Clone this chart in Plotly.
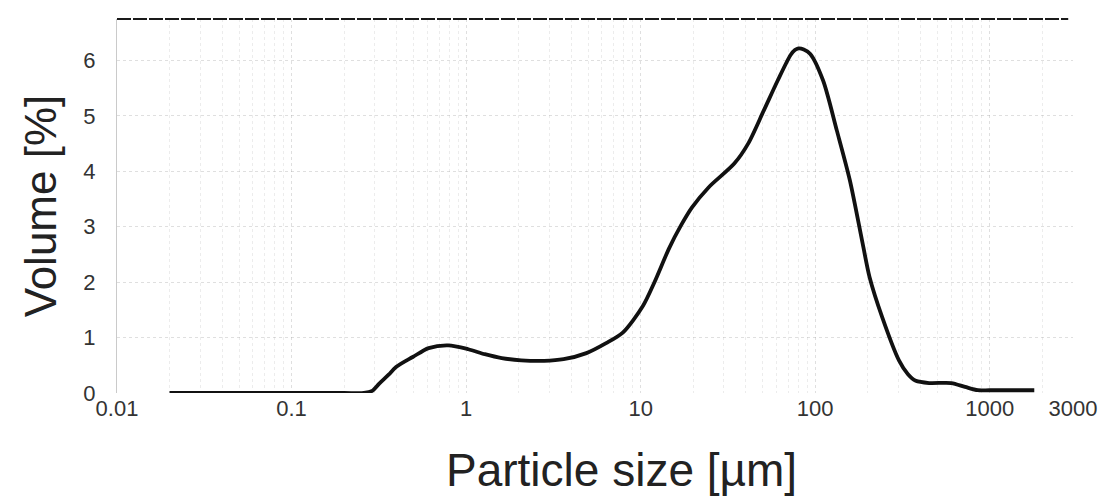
import plotly.graph_objects as go

size_um = [0.02, 0.05, 0.1, 0.2, 0.26, 0.29, 0.318, 0.36, 0.397, 0.495, 0.61, 0.79, 1.03, 1.28, 1.60,
           2.07, 2.8, 3.62, 4.89, 6.34, 7.9, 10.3, 12.0, 14.6, 17.0, 19.7, 24.5, 34.4, 41.3, 50.8,
           61.0, 72.3, 76.5, 80.2, 86.0, 93.7, 111, 133, 158, 187, 205, 242, 302, 340, 377, 450, 602, 722,
           855, 1000, 1800]
volume_pct = [0, 0, 0, 0, 0, 0.04, 0.17, 0.33, 0.47, 0.65, 0.81, 0.86, 0.79, 0.70, 0.63,
              0.59, 0.58, 0.61, 0.72, 0.90, 1.09, 1.57, 2.0, 2.62, 3.02, 3.35, 3.71, 4.14, 4.50, 5.10,
              5.64, 6.10, 6.19, 6.22, 6.2, 6.12, 5.64, 4.74, 3.84, 2.70, 2.09, 1.37, 0.59, 0.34, 0.22, 0.18, 0.18, 0.11,
              0.05, 0.05, 0.05]

x_tickvals = [0.01, 0.1, 1, 10, 100, 1000, 3000]
x_ticktext = ["0.01", "0.1", "1", "10", "100", "1000", "3000"]
y_tickvals = [0, 1, 2, 3, 4, 5, 6]

FONT = "Liberation Sans, Arial, sans-serif"

fig = go.Figure()
fig.add_trace(go.Scatter(
    x=size_um, y=volume_pct, mode="lines",
    line=dict(color="#111111", width=3.8, shape="spline", smoothing=0.8),
    showlegend=False, hoverinfo="skip",
))

fig.update_layout(
    width=1109, height=499,
    margin=dict(l=117, r=25, t=19, b=106),
    paper_bgcolor="white", plot_bgcolor="white",
    font=dict(family=FONT, color="#222222"),
    xaxis=dict(
        type="log", range=[-2, 3.4771],
        tickvals=x_tickvals, ticktext=x_ticktext,
        tickfont=dict(size=22, color="#333333"),
        showgrid=True, gridcolor="rgba(150,150,150,0.3)", griddash="dot", gridwidth=1,
        minor=dict(showgrid=True, gridcolor="rgba(150,150,150,0.18)", griddash="dot", gridwidth=1,
                   tickvals=[m * 10 ** e for e in range(-2, 4) for m in range(2, 10) if m * 10 ** e <= 3000]),
        zeroline=False, showline=False, ticks="",
    ),
    yaxis=dict(
        range=[0, 6.75],
        tickvals=y_tickvals,
        tickfont=dict(size=22, color="#333333"),
        showgrid=True, gridcolor="rgba(150,150,150,0.3)", griddash="dot", gridwidth=1,
        zeroline=False, showline=True, linecolor="rgba(150,150,150,0.5)", linewidth=1,
        ticks="", ticklabelstandoff=16,
        title=dict(text="Volume [%]", font=dict(size=44, color="#222222"), standoff=12),
    ),
)

fig.add_annotation(text="Particle size [µm]", xref="paper", yref="paper",
                   x=0.528, y=-0.206, xanchor="center", yanchor="middle",
                   showarrow=False, font=dict(size=46, color="#222222"))

fig.add_shape(type="line", xref="paper", yref="paper", x0=0, x1=0.995, y0=1, y1=1,
              line=dict(color="#1a1a1a", width=2, dash="14px,2px"))

fig.write_html("out.html")
